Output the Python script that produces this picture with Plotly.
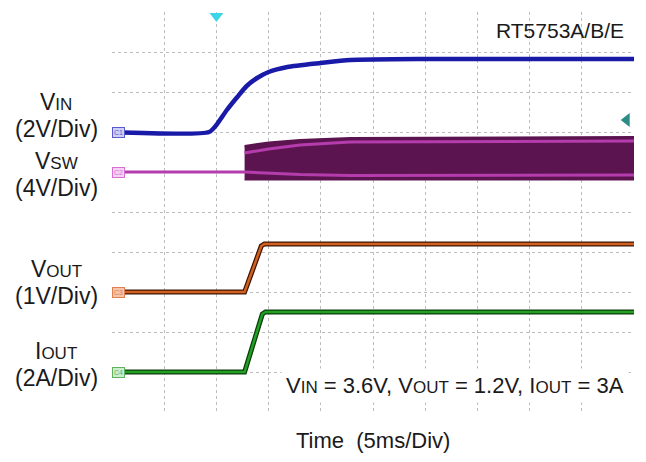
import plotly.graph_objects as go

# ── Scope settings ──
T_DIV_MS = 5
N_DIV_X = 10
N_DIV_Y = 10

# channel: (volts or amps per div, baseline position in divisions)
CH_SCALE = {"vin": 2, "vsw": 4, "vout": 1, "iout": 2}
CH_OFFSET = {"vin": 7.0, "vsw": 6.0, "vout": 3.0, "iout": 1.0}

COLORS = {
    "vin": "#1a1aa8",
    "vsw_band": "#5c1450",
    "vsw_line": "#b43cac",
    "vout": "#d2601e",
    "vout_edge": "#3c1606",
    "iout": "#22a022",
    "iout_edge": "#0c3c0c",
    "grid": "#bdbdbd",
    "text": "#1a1a1a",
}

# ── Waveforms (time in ms) ──
vin_t = [0, 9.3, 10.0, 11.0, 12.0, 12.9, 13.9, 15.0, 16.8, 20.0, 22.8, 30, 40, 50]
vin_v = [0, 0, 0.35, 1.1, 1.75, 2.3, 2.7, 3.0, 3.25, 3.45, 3.6, 3.65, 3.65, 3.65]

vsw_band_t = [12.7, 15.0, 18.0, 22.8, 50]
vsw_band_hi = [2.6, 2.95, 3.2, 3.4, 3.5]
vsw_band_lo = [-0.8, -0.8, -0.8, -0.8, -0.8]
vsw_top_v = [1.9, 2.3, 2.7, 3.0, 3.1]
vsw_low_t = [0, 12.7, 18.0, 22.8, 50]
vsw_low_v = [0, 0, -0.25, -0.35, -0.3]

vout_t = [0, 12.7, 14.3, 14.6, 50]
vout_v = [0, 0, 1.15, 1.2, 1.2]

iout_t = [0, 12.7, 14.4, 14.7, 50]
iout_a = [0, 0, 2.9, 3.0, 3.0]

trig_t = 10
trig_level_v = 0.6

FONT = "Arial, Liberation Sans, sans-serif"


def sub(s, size):
    return f"<span style='font-size:{size}px'>{s}</span>"


fig = go.Figure()

# VSW switching band
fig.add_trace(go.Scatter(x=vsw_band_t, y=vsw_band_lo, yaxis="y3", mode="lines",
                         line=dict(color=COLORS["vsw_band"], width=1), showlegend=False))
fig.add_trace(go.Scatter(x=vsw_band_t, y=vsw_band_hi, yaxis="y3", mode="lines",
                         fill="tonexty", fillcolor=COLORS["vsw_band"],
                         line=dict(color=COLORS["vsw_band"], width=2), showlegend=False))
fig.add_trace(go.Scatter(x=vsw_band_t, y=vsw_top_v, yaxis="y3", mode="lines",
                         line=dict(color=COLORS["vsw_line"], width=3), showlegend=False))
fig.add_trace(go.Scatter(x=vsw_low_t, y=vsw_low_v, yaxis="y3", mode="lines",
                         line=dict(color=COLORS["vsw_line"], width=3), showlegend=False))

# VIN
fig.add_trace(go.Scatter(x=vin_t, y=vin_v, yaxis="y2", mode="lines",
                         line=dict(color=COLORS["vin"], width=4.5, shape="spline", smoothing=0.6),
                         showlegend=False))

# VOUT, IOUT with dark edges
fig.add_trace(go.Scatter(x=vout_t, y=vout_v, yaxis="y4", mode="lines",
                         line=dict(color=COLORS["vout_edge"], width=5), showlegend=False))
fig.add_trace(go.Scatter(x=vout_t, y=vout_v, yaxis="y4", mode="lines",
                         line=dict(color=COLORS["vout"], width=2.5), showlegend=False))
fig.add_trace(go.Scatter(x=iout_t, y=iout_a, yaxis="y5", mode="lines",
                         line=dict(color=COLORS["iout_edge"], width=5), showlegend=False))
fig.add_trace(go.Scatter(x=iout_t, y=iout_a, yaxis="y5", mode="lines",
                         line=dict(color=COLORS["iout"], width=2.5), showlegend=False))

# trigger position and level markers
fig.add_trace(go.Scatter(x=[trig_t], y=[N_DIV_Y - 0.1], mode="markers", cliponaxis=False,
                         marker=dict(symbol="triangle-down", size=12, color="#38d6e6"),
                         showlegend=False))
fig.add_trace(go.Scatter(x=[N_DIV_X * T_DIV_MS - 0.7], y=[trig_level_v], yaxis="y2",
                         mode="markers", cliponaxis=False,
                         marker=dict(symbol="triangle-left", size=12, color="#2a8c84"),
                         showlegend=False))


def ch_range(ch):
    s, o = CH_SCALE[ch], CH_OFFSET[ch]
    return [-o * s, (N_DIV_Y - o) * s]


fig.update_layout(
    width=646, height=462,
    margin=dict(l=112, r=12, t=12, b=50),
    plot_bgcolor="white", paper_bgcolor="white",
    font=dict(family=FONT, color=COLORS["text"]),
    xaxis=dict(range=[0, N_DIV_X * T_DIV_MS],
               tickvals=[T_DIV_MS * i for i in range(1, N_DIV_X)],
               showticklabels=False, ticks="", showgrid=True, gridcolor=COLORS["grid"],
               griddash="dot", gridwidth=1, zeroline=False, showline=False),
    yaxis=dict(range=[0, N_DIV_Y], tickvals=list(range(1, N_DIV_Y)),
               showticklabels=False, ticks="", showgrid=True, gridcolor=COLORS["grid"],
               griddash="dot", gridwidth=1, zeroline=False, showline=False),
    yaxis2=dict(range=ch_range("vin"), overlaying="y", visible=False),
    yaxis3=dict(range=ch_range("vsw"), overlaying="y", visible=False),
    yaxis4=dict(range=ch_range("vout"), overlaying="y", visible=False),
    yaxis5=dict(range=ch_range("iout"), overlaying="y", visible=False),
)

# channel tags on the left edge
tags = [("y2", "C1", "#cfd0f4", "#5a5ad0"), ("y3", "C2", "#f6d2f4", "#d870d4"),
        ("y4", "C3", "#f6c4a8", "#e08050"), ("y5", "C4", "#cdeecd", "#60b060")]
for yref, txt, bg, bd in tags:
    fig.add_annotation(x=0, y=0, xref="x", yref=yref, text=txt, showarrow=False,
                       xanchor="left", yanchor="middle", font=dict(size=7, color=bd),
                       bgcolor=bg, bordercolor=bd, borderwidth=1, borderpad=1)

# left labels
LBL = 23
SUB = 17
labels = [
    ("V" + sub("IN", SUB), 102), ("(2V/Div)", 129),
    ("V" + sub("SW", SUB), 161), ("(4V/Div)", 188),
    ("V" + sub("OUT", SUB), 269), ("(1V/Div)", 296),
    ("I" + sub("OUT", SUB), 351), ("(2A/Div)", 378),
]
for txt, py in labels:
    fig.add_annotation(x=(56 - 112) / 522, y=(412 - py) / 400, xref="paper", yref="paper",
                       text=txt, showarrow=False, xanchor="center", yanchor="middle",
                       borderpad=0, font=dict(size=LBL, family=FONT))

fig.add_annotation(x=(626 - 112) / 522, y=(412 - 30) / 400, xref="paper", yref="paper",
                   text="RT5753A/B/E", showarrow=False, xanchor="right", yanchor="middle",
                   font=dict(size=21, family=FONT))

fig.add_annotation(x=(629 - 112) / 522, y=(412 - 385) / 400, xref="paper", yref="paper",
                   text="V" + sub("IN", 17) + " = 3.6V, V" + sub("OUT", 17) + " = 1.2V, I"
                        + sub("OUT", 17) + " = 3A",
                   showarrow=False, xanchor="right", yanchor="middle",
                   bgcolor="white", borderpad=4, font=dict(size=22, family=FONT))

fig.add_annotation(x=0.5, y=(412 - 440) / 400, xref="paper", yref="paper",
                   text="Time  (5ms/Div)", showarrow=False, xanchor="center", yanchor="middle",
                   font=dict(size=22, family=FONT))

fig.write_html("out.html", config={"displayModeBar": False},
               post_script="document.body.style.margin='0';document.body.style.padding='0';")
